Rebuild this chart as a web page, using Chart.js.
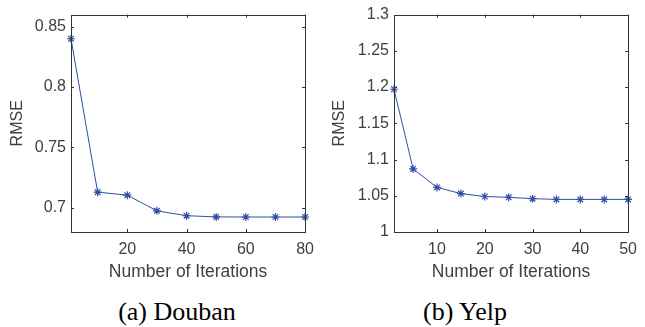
<!DOCTYPE html>
<html>
<head>
<meta charset="utf-8">
<script src="https://cdn.jsdelivr.net/npm/chart.js@4/dist/chart.umd.min.js"></script>
<style>
  body { margin: 0; background: #fff; width: 645px; height: 327px; position: relative; overflow: hidden; }
  .box { position: absolute; top: 0; height: 285px; }
  .cap { position: absolute; top: 297px; font-family: "Liberation Serif", serif; font-size: 26px; line-height: 30px; color: #000; transform: translateX(-50%); white-space: nowrap; }
</style>
</head>
<body>
<div class="box" style="left:0;width:322px"><canvas id="doubanChart"></canvas></div>
<div class="box" style="left:322px;width:323px"><canvas id="yelpChart"></canvas></div>
<div class="cap" style="left:177px">(a) Douban</div>
<div class="cap" style="left:465px">(b) Yelp</div>
<script>
const doubanIters = [1, 10, 20, 30, 40, 50, 60, 70, 80];
const doubanRmse = [0.840, 0.713, 0.7105, 0.6975, 0.6935, 0.6925, 0.6924, 0.6924, 0.6924];
const doubanXTicks = [20, 40, 60, 80];
const doubanYTicks = [0.7, 0.75, 0.8, 0.85];

const yelpIters = [1, 5, 10, 15, 20, 25, 30, 35, 40, 45, 50];
const yelpRmse = [1.197, 1.087, 1.0615, 1.053, 1.049, 1.0478, 1.046, 1.045, 1.045, 1.045, 1.045];
const yelpXTicks = [10, 20, 30, 40, 50];
const yelpYTicks = [1, 1.05, 1.1, 1.15, 1.2, 1.25, 1.3];

const axisColor = '#333333';
const textColor = '#404040';
const lineColor = '#2f4ea8';

// box + inward ticks like matlab
const boxPlugin = {
    id: 'box',
    afterDraw(chart) {
        const ctx = chart.ctx;
        const a = chart.chartArea;
        const x = chart.scales.x, y = chart.scales.y;
        const len = 3;
        ctx.save();
        ctx.strokeStyle = axisColor;
        ctx.lineWidth = 1;
        ctx.strokeRect(Math.round(a.left) + 0.5, Math.round(a.top) + 0.5, Math.round(a.right - a.left), Math.round(a.bottom - a.top));
        ctx.beginPath();
        x.ticks.forEach(t => {
            const px = Math.round(x.getPixelForValue(t.value)) + 0.5;
            ctx.moveTo(px, a.bottom); ctx.lineTo(px, a.bottom - len);
            ctx.moveTo(px, a.top); ctx.lineTo(px, a.top + len);
        });
        y.ticks.forEach(t => {
            const py = Math.round(y.getPixelForValue(t.value)) + 0.5;
            ctx.moveTo(a.left, py); ctx.lineTo(a.left + len, py);
            ctx.moveTo(a.right, py); ctx.lineTo(a.right - len, py);
        });
        ctx.stroke();
        ctx.restore();
    }
};

function makeChart(id, xs, ys, xTicks, yTicks, xMin, xMax, yMin, yMax, yWidth, rightPad) {
    return new Chart(document.getElementById(id), {
        type: 'line',
        data: {
            datasets: [{
                data: xs.map((v, i) => ({x: v, y: ys[i]})),
                borderColor: lineColor,
                backgroundColor: lineColor,
                borderWidth: 1,
                pointStyle: 'star',
                pointRadius: 4,
                pointBorderWidth: 1.2,
                pointBorderColor: lineColor,
                tension: 0,
                clip: false
            }]
        },
        options: {
            responsive: true,
            maintainAspectRatio: false,
            animation: false,
            layout: { padding: { top: 11, right: rightPad, left: 0, bottom: 0 } },
            plugins: { legend: { display: false }, tooltip: { enabled: false } },
            scales: {
                x: {
                    type: 'linear',
                    min: xMin, max: xMax,
                    afterBuildTicks: s => { s.ticks = xTicks.map(v => ({value: v})); },
                    afterFit: s => { s.height = 53; },
                    grid: { display: false, drawTicks: false },
                    border: { display: false },
                    ticks: { color: textColor, font: { family: 'Liberation Sans', size: 16 }, padding: 8, maxRotation: 0,
                             callback: v => String(v) },
                    title: { display: true, text: 'Number of Iterations', color: textColor,
                             font: { family: 'Liberation Sans', size: 17.5 }, padding: { top: 2, bottom: 2 } }
                },
                y: {
                    type: 'linear',
                    min: yMin, max: yMax,
                    afterBuildTicks: s => { s.ticks = yTicks.map(v => ({value: v})); },
                    afterFit: s => { s.width = yWidth; },
                    grid: { display: false, drawTicks: false },
                    border: { display: false },
                    ticks: { color: textColor, font: { family: 'Liberation Sans', size: 16 }, padding: 5,
                             callback: v => String(Number(v.toFixed(2))) },
                    title: { display: true, text: 'RMSE', color: textColor,
                             font: { family: 'Liberation Sans', size: 16 }, padding: { top: 8, bottom: 0 } }
                }
            }
        },
        plugins: [boxPlugin]
    });
}

// DOUBAN
makeChart('doubanChart', doubanIters, doubanRmse, doubanXTicks, doubanYTicks, 1, 80, 0.68, 0.86, 71, 8);

// YELP
makeChart('yelpChart', yelpIters, yelpRmse, yelpXTicks, yelpYTicks, 1, 50, 1, 1.3, 72, 10);
</script>
</body>
</html>
